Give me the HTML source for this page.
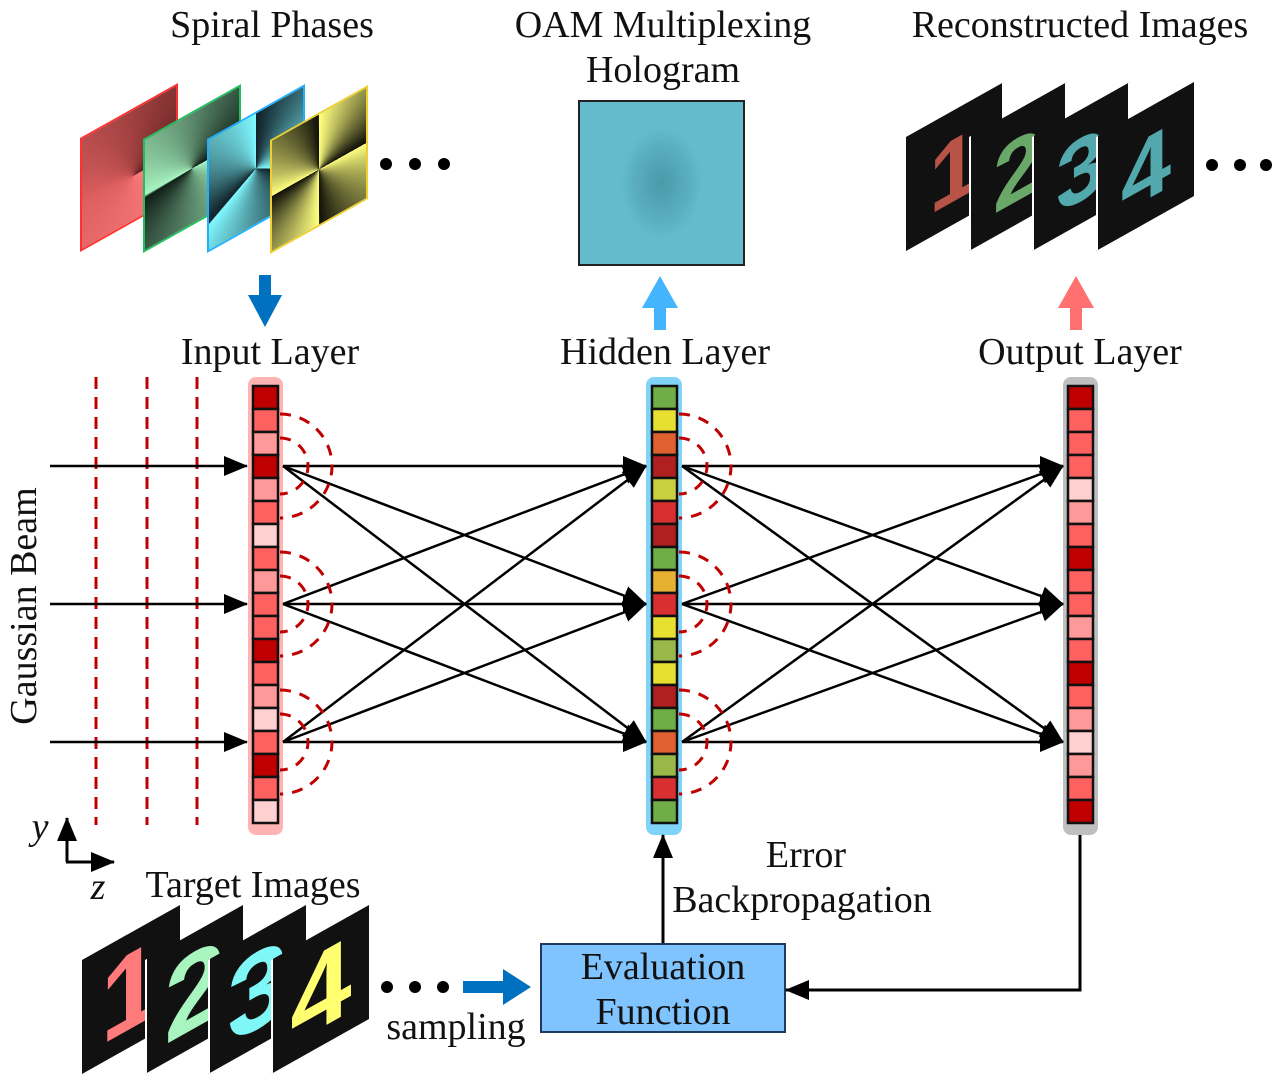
<!DOCTYPE html>
<html><head><meta charset="utf-8"><style>
body{margin:0;width:1280px;height:1078px;background:#fff;position:relative;overflow:hidden;font-family:"Liberation Serif",serif;}
.p{position:absolute;width:98px;height:114px;transform-origin:0 0;transform:skewY(-29.3deg);box-sizing:border-box;overflow:hidden;}
.t{position:absolute;font-size:38px;color:#111;white-space:nowrap;transform:translateX(-50%);line-height:1;}
.dig{position:absolute;left:0;top:0;width:100%;text-align:center;font-family:"Liberation Sans",sans-serif;font-weight:bold;}
svg{position:absolute;left:0;top:0;}
</style></head><body>

<div class="t" style="left:272px;top:6px">Spiral Phases</div>
<div class="t" style="left:663px;top:6px">OAM Multiplexing</div>
<div class="t" style="left:663px;top:51px">Hologram</div>
<div class="t" style="left:1080px;top:6px">Reconstructed Images</div>
<div class="t" style="left:270px;top:333px">Input Layer</div>
<div class="t" style="left:665px;top:333px">Hidden Layer</div>
<div class="t" style="left:1080px;top:333px">Output Layer</div>
<div class="t" style="left:806px;top:836px">Error</div>
<div class="t" style="left:802px;top:881px">Backpropagation</div>
<div class="t" style="left:253px;top:866px">Target Images</div>
<div class="t" style="left:456px;top:1008px">sampling</div>
<div class="t" style="left:40px;top:808px;font-style:italic">y</div>
<div class="t" style="left:98px;top:868px;font-style:italic">z</div>
<div class="t" style="left:24px;top:587px;transform:translateX(-50%) rotate(-90deg);">Gaussian Beam</div>

<!-- spiral phases -->
<div class="p" style="left:80px;top:138px;border:2px solid #ff3030;background:conic-gradient(from 90deg at 55% 60%,#ff8080,#e06060 50%,#602020 99%,#ff8080);"></div>
<div class="p" style="left:143px;top:139px;border:2px solid #20c060;background:conic-gradient(from 90deg at 50% 50%,#a8f5c0,#102018 49%,#a8f5c0 50%,#102018 99%);"></div>
<div class="p" style="left:207px;top:139px;border:2px solid #20b0ff;background:conic-gradient(from 0deg at 50% 50%,#102028,#80f8ff 33%,#102028 33.4%,#80f8ff 66%,#102028 66.4%,#80f8ff);"></div>
<div class="p" style="left:270px;top:140px;border:2px solid #f0d030;background:conic-gradient(from 90deg at 50% 50%,#ffff80,#101008 24.9%,#ffff80 25%,#101008 49.9%,#ffff80 50%,#101008 74.9%,#ffff80 75%,#101008);"></div>

<!-- reconstructed -->
<div class="p" style="left:906px;top:137px;background:#111;border-right:2px solid #fff;"><div class="dig" style="font-size:90px;top:10px;color:#ff7060;opacity:.7">1</div></div>
<div class="p" style="left:969px;top:137px;background:#111;border:2px solid #fff;border-width:0 2px 0 2px;"><div class="dig" style="font-size:90px;top:10px;color:#90e890;opacity:.7">2</div></div>
<div class="p" style="left:1032px;top:137px;background:#111;border:2px solid #fff;border-width:0 2px 0 2px;"><div class="dig" style="font-size:90px;top:10px;color:#70e8f0;opacity:.7">3</div></div>
<div class="p" style="left:1096px;top:137px;background:#111;border-left:2px solid #fff;"><div class="dig" style="font-size:90px;top:10px;color:#70e8f0;opacity:.7">4</div></div>

<!-- target -->
<div class="p" style="left:82px;top:960px;background:#111;"><div class="dig" style="font-size:110px;top:-5px;color:#ff7b7b">1</div></div>
<div class="p" style="left:145px;top:960px;background:#111;border-left:2px solid #fff;"><div class="dig" style="font-size:110px;top:-5px;color:#a8f5c0">2</div></div>
<div class="p" style="left:208px;top:960px;background:#111;border-left:2px solid #fff;"><div class="dig" style="font-size:110px;top:-5px;color:#7ff7f7">3</div></div>
<div class="p" style="left:271px;top:960px;background:#111;border-left:2px solid #fff;"><div class="dig" style="font-size:110px;top:-5px;color:#ffff70">4</div></div>

<!-- hologram -->
<div style="position:absolute;left:578px;top:100px;width:163px;height:162px;border:2px solid #222;background:radial-gradient(ellipse 40px 55px at 50% 50%,#4a9aaa,#5aafbf 70%,#62bccb);"></div>

<!-- eval box -->
<div style="position:absolute;left:540px;top:943px;width:242px;height:86px;border:2px solid #1f3a5a;background:#7fc4ff;"></div>
<div class="t" style="left:663px;top:948px">Evaluation</div>
<div class="t" style="left:663px;top:993px">Function</div>

<svg width="1280" height="1078" viewBox="0 0 1280 1078">
<defs>
<marker id="b" markerWidth="24" markerHeight="20" refX="23" refY="10" orient="auto" markerUnits="userSpaceOnUse" viewBox="0 0 24 20"><path d="M0,0 L24,10 L0,20z" fill="#000"/></marker>
</defs>
<g fill="#000">
<circle cx="386" cy="164" r="6"/><circle cx="415" cy="164" r="6"/><circle cx="444" cy="164" r="6"/>
<circle cx="1212" cy="165" r="6"/><circle cx="1240" cy="165" r="6"/><circle cx="1266" cy="165" r="6"/>
<circle cx="387" cy="987" r="6"/><circle cx="415" cy="987" r="6"/><circle cx="443" cy="987" r="6"/>
</g>
<path d="M259,275h12v20h11l-17,32l-17,-32h11z" fill="#0070c0"/>
<path d="M654,330h12v-22h12l-18,-32l-18,32h12z" fill="#44b4ff"/>
<path d="M1070,330h12v-22h12l-18,-32l-18,32h12z" fill="#ff7070"/>
<path d="M463,981h40v-12l28,18l-28,18v-12h-40z" fill="#0070c0"/>
<g stroke="#c00000" stroke-width="3" stroke-dasharray="12 8" fill="none">
<line x1="96" y1="377" x2="96" y2="825"/><line x1="147" y1="377" x2="147" y2="825"/><line x1="197" y1="377" x2="197" y2="825"/>
</g>
<g stroke="#000" stroke-width="3" fill="none">
<line x1="67" y1="862" x2="67" y2="818" marker-end="url(#b)"/>
<line x1="66" y1="862" x2="114" y2="862" marker-end="url(#b)"/>
</g>
<g stroke="#000" stroke-width="2.5">
<line x1="50" y1="466" x2="247" y2="466" marker-end="url(#b)"/>
<line x1="50" y1="604" x2="247" y2="604" marker-end="url(#b)"/>
<line x1="50" y1="742" x2="247" y2="742" marker-end="url(#b)"/>
</g>
<rect x="248" y="377" width="35" height="458" rx="8" fill="#ffb3b3"/>
<rect x="646" y="377" width="36" height="458" rx="8" fill="#7fd4f8"/>
<rect x="1063" y="377" width="35" height="458" rx="8" fill="#bfbfbf"/>
<g id="cells" stroke="#111" stroke-width="2.5"></g>
<g id="net" stroke="#000" stroke-width="2.5" fill="none"></g>
<g id="arcs" stroke="#c00000" stroke-width="3" stroke-dasharray="11 9" fill="none"></g>
<g stroke="#000" stroke-width="3" fill="none">
<line x1="663" y1="943" x2="663" y2="835" marker-end="url(#b)"/>
<polyline points="1080,835 1080,990 786,990" marker-end="url(#b)"/>
</g>
</svg>
<script>
const N='http://www.w3.org/2000/svg';
const D='#c00000',R='#ff6060',P='#ff9999',L='#ffd0d0';
const G='#70ad47',Y='#e8e030',O='#e06030',DR='#b02020',OL='#c8d040',RR='#d83030',OY='#e8b030',GG='#98b848';
const cols={253:[D,R,P,D,P,R,L,R,P,R,R,D,R,P,L,R,D,R,L],
 652:[G,Y,O,DR,OL,RR,DR,G,OY,RR,Y,GG,Y,DR,G,O,GG,RR,G],
 1068:[D,R,R,R,L,P,R,D,R,R,P,R,D,R,P,L,P,R,D]};
const c=document.getElementById('cells');
for(const x in cols){cols[x].forEach((f,i)=>{const r=document.createElementNS(N,'rect');r.setAttribute('x',+x);r.setAttribute('y',386+i*23);r.setAttribute('width',25);r.setAttribute('height',23);r.setAttribute('fill',f);c.appendChild(r);});}
const net=document.getElementById('net'),arcs=document.getElementById('arcs');
const ys=[466,604,742];
[[283,646],[682,1063]].forEach(([x1,x2])=>{ys.forEach(a=>ys.forEach(b=>{const l=document.createElementNS(N,'line');l.setAttribute('x1',x1);l.setAttribute('y1',a);l.setAttribute('x2',x2);l.setAttribute('y2',b);l.setAttribute('marker-end','url(#b)');net.appendChild(l);}));
 ys.forEach(y=>{[28,52].forEach(r=>{const p=document.createElementNS(N,'path');p.setAttribute('d',`M${x1-3},${y-r} A${r},${r} 0 0 1 ${x1-3},${y+r}`);arcs.appendChild(p);});});});
</script>
</body></html>
